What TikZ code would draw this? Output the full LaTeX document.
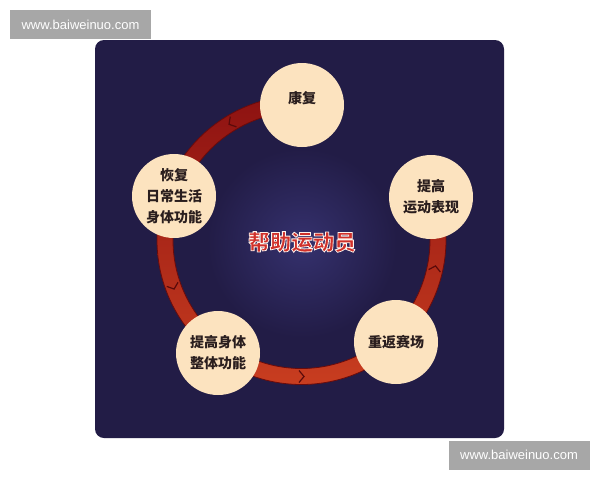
\documentclass[tikz,border=0pt]{standalone}
\usepackage{fontspec}
\setmainfont{Liberation Sans}
\newfontfamily\cjk{Noto Sans CJK SC}
\usetikzlibrary{calc}
\definecolor{navy}{HTML}{221C46}
\definecolor{glow}{HTML}{35316E}
\definecolor{cream}{HTML}{FCE3BF}
\definecolor{ringtop}{HTML}{8C1111}
\definecolor{ringbot}{HTML}{C93E20}
\definecolor{ringedge}{HTML}{6A0B0B}
\definecolor{chevcol}{HTML}{5A0A0A}
\definecolor{txt}{HTML}{2A1E1E}
\definecolor{wmgray}{HTML}{A7A7A7}
\definecolor{titlered}{HTML}{D0302A}
\newcommand{\outlinedtext}[1]{\special{pdf:literal direct 2 Tr 1 0.95 0.92 RG 0.8 w}#1\special{pdf:literal direct 0 Tr}}
\begin{document}
\begin{tikzpicture}[x=1pt,y=1pt,
  stage/.style={circle, fill=cream, minimum size=84pt, inner sep=0pt, align=center, text=txt, font=\cjk\bfseries\fontsize{14}{21}\selectfont},
  wmark/.style={fill=wmgray, text=white, minimum width=141pt, minimum height=29pt, inner sep=0pt, font=\fontsize{13}{15}\selectfont},
  chevron/.style={draw=chevcol, line width=1.2pt, line join=miter},
  titletext/.style={font=\cjk\bfseries\fontsize{21.5}{25}\selectfont, inner sep=0pt}]
\useasboundingbox (0,0) rectangle (600,-480);
\fill[white] (0,0) rectangle (600,-480);
\fill[navy, rounded corners=9pt] (95,-40) rectangle (504,-438);
\shade[inner color=glow, outer color=navy] (302,-243) circle (95);
\coordinate (c) at (301.5,-240);
% ring
\begin{scope}
\clip ($(c)+(90:144.5)$) arc[start angle=90,end angle=378,radius=144.5] -- ($(c)+(378:128.5)$) arc[start angle=378,end angle=90,radius=128.5] -- cycle;
\shade[top color=ringtop, bottom color=ringbot] ($(c)+(-150,150)$) rectangle ($(c)+(150,-150)$);
\end{scope}
\draw[ringedge, line width=0.8pt] ($(c)+(90:144.5)$) arc[start angle=90,end angle=378,radius=144.5];
\draw[ringedge, line width=0.8pt] ($(c)+(90:128.5)$) arc[start angle=90,end angle=378,radius=128.5];
% chevrons
\foreach \a in {121,200,270,348} {
  \begin{scope}[shift={($(c)+(\a:136.5)$)}, rotate=\a+90]
    \draw[chevron] (-2.5,6) -- (2.5,0) -- (-2.5,-6);
  \end{scope}
}
% stages
\node[stage] (a) at (302,-105) {\raisebox{16pt}{康复}};
\node[stage] (b) at (431,-197) {提高\\运动表现};
\node[stage] (r) at (396,-342) {重返赛场};
\node[stage] (d) at (218,-353) {提高身体\\整体功能};
\node[stage] (e) at (174,-196) {恢复\\日常生活\\身体功能};
% title
\node[titletext, text=titlered] (title) at (302,-242) {\outlinedtext{帮助运动员}};
% watermarks
\node[wmark] (wm1) at (80.5,-24.5) {www.baiweinuo.com};
\node[wmark] (wm2) at (519,-455) {www.baiweinuo.com};
\end{tikzpicture}
\end{document}
